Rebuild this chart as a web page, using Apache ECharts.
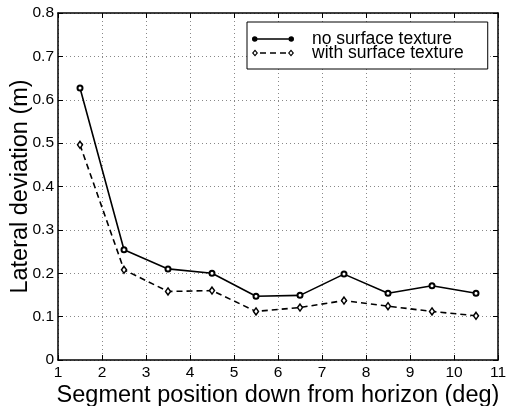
<!DOCTYPE html>
<html>
<head>
<meta charset="utf-8">
<script src="https://cdn.jsdelivr.net/npm/echarts@6/dist/echarts.min.js"></script>
<style>
    * { margin: 0; padding: 0; }
    #main { width: 508px; height: 406px; background: #fff; }
</style>
</head>
<body>
<div id="main"></div>
<script>
// segment positions (deg)
var positions = [1.5, 2.5, 3.5, 4.5, 5.5, 6.5, 7.5, 8.5, 9.5, 10.5];
// lateral deviation (m)
var noTexture = [0.627, 0.254, 0.210, 0.200, 0.147, 0.149, 0.198, 0.154, 0.171, 0.154];
var withTexture = [0.496, 0.208, 0.158, 0.160, 0.112, 0.121, 0.137, 0.124, 0.112, 0.102];
var seriesNames = ['no surface texture', 'with surface texture'];

function pairs(xs, ys) {
    return xs.map(function (x, i) { return [x, ys[i]]; });
}

var font = 'Liberation Sans, Arial, Helvetica, sans-serif';
var myChart = echarts.init(document.getElementById('main'));

// legend icons: line with a marker at each end (42 x 7 box)
var solidIcon = 'path://M3 2.7 H39 V4.3 H3 Z' +
    ' M0.3 3.5 A2.7 2.7 0 1 1 5.7 3.5 A2.7 2.7 0 1 1 0.3 3.5 Z' +
    ' M36.3 3.5 A2.7 2.7 0 1 1 41.7 3.5 A2.7 2.7 0 1 1 36.3 3.5 Z';
var dashIcon = 'path://M3 0 L6 3.5 L3 7 L0 3.5 Z M3 1.8 L1.5 3.5 L3 5.2 L4.5 3.5 Z' +
    ' M39 0 L42 3.5 L39 7 L36 3.5 Z M39 1.8 L37.5 3.5 L39 5.2 L40.5 3.5 Z' +
    ' M8 2.7 H14 V4.3 H8 Z M18 2.7 H24 V4.3 H18 Z M28 2.7 H34 V4.3 H28 Z';

var tickStyle = { show: true, inside: true, length: 5, lineStyle: { color: '#000', width: 1 } };
var lineAx = { show: true, onZero: false, lineStyle: { color: '#000', width: 1.5 } };
var gridLine = { show: true, lineStyle: { type: [1, 3], color: '#888', width: 1 } };

var option = {
    animation: false,
    grid: { left: 58, right: 10, top: 13, bottom: 46, containLabel: false, outerBoundsMode: 'none' },
    legend: {
        orient: 'vertical',
        left: 247,
        top: 22,
        padding: [8, 24, 7, 5],
        itemGap: -4,
        itemWidth: 42,
        itemHeight: 7,
        backgroundColor: '#fff',
        borderColor: '#000',
        borderWidth: 1,
        textStyle: { fontFamily: font, fontSize: 17.5, color: '#000', padding: [0, 0, 0, 13] },
        data: [
            { name: seriesNames[0], icon: solidIcon, itemStyle: { color: '#000', borderWidth: 0 } },
            { name: seriesNames[1], icon: dashIcon, itemStyle: { color: '#000', borderWidth: 0 } }
        ]
    },
    xAxis: [{
        type: 'value',
        min: 1, max: 11, interval: 1,
        name: 'Segment position down from horizon (deg)',
        nameLocation: 'middle',
        nameGap: 24,
        nameMoveOverlap: false,
        nameTextStyle: { fontFamily: font, fontSize: 23.5, color: '#000' },
        axisLine: lineAx,
        axisTick: tickStyle,
        axisLabel: { fontFamily: font, fontSize: 15.5, color: '#000', margin: 5 },
        splitLine: gridLine
    }, {
        type: 'value',
        position: 'top',
        min: 1, max: 11, interval: 1,
        axisLine: lineAx,
        axisTick: tickStyle,
        axisLabel: { show: false },
        splitLine: { show: false }
    }],
    yAxis: [{
        type: 'value',
        min: 0, max: 0.8, interval: 0.1,
        name: 'Lateral deviation (m)',
        nameLocation: 'middle',
        nameGap: 25,
        nameMoveOverlap: false,
        nameTextStyle: { fontFamily: font, fontSize: 23.5, color: '#000' },
        axisLine: lineAx,
        axisTick: tickStyle,
        axisLabel: {
            fontFamily: font, fontSize: 15.5, color: '#000', margin: 4,
            formatter: function (v) { return +v.toFixed(1) + ''; }
        },
        splitLine: gridLine
    }, {
        type: 'value',
        position: 'right',
        min: 0, max: 0.8, interval: 0.1,
        axisLine: lineAx,
        axisTick: tickStyle,
        axisLabel: { show: false },
        splitLine: { show: false }
    }],
    series: [{
        name: seriesNames[0],
        type: 'line',
        data: pairs(positions, noTexture),
        symbol: 'circle',
        symbolSize: 5,
        showAllSymbol: true,
        lineStyle: { color: '#000', width: 1.6, type: 'solid' },
        itemStyle: { color: '#fff', borderColor: '#000', borderWidth: 2 }
    }, {
        name: seriesNames[1],
        type: 'line',
        data: pairs(positions, withTexture),
        symbol: 'diamond',
        symbolSize: [5, 7],
        showAllSymbol: true,
        lineStyle: { color: '#000', width: 1.6, type: [6, 4] },
        itemStyle: { color: '#fff', borderColor: '#000', borderWidth: 1.5 }
    }]
};

myChart.setOption(option);
</script>
</body>
</html>
